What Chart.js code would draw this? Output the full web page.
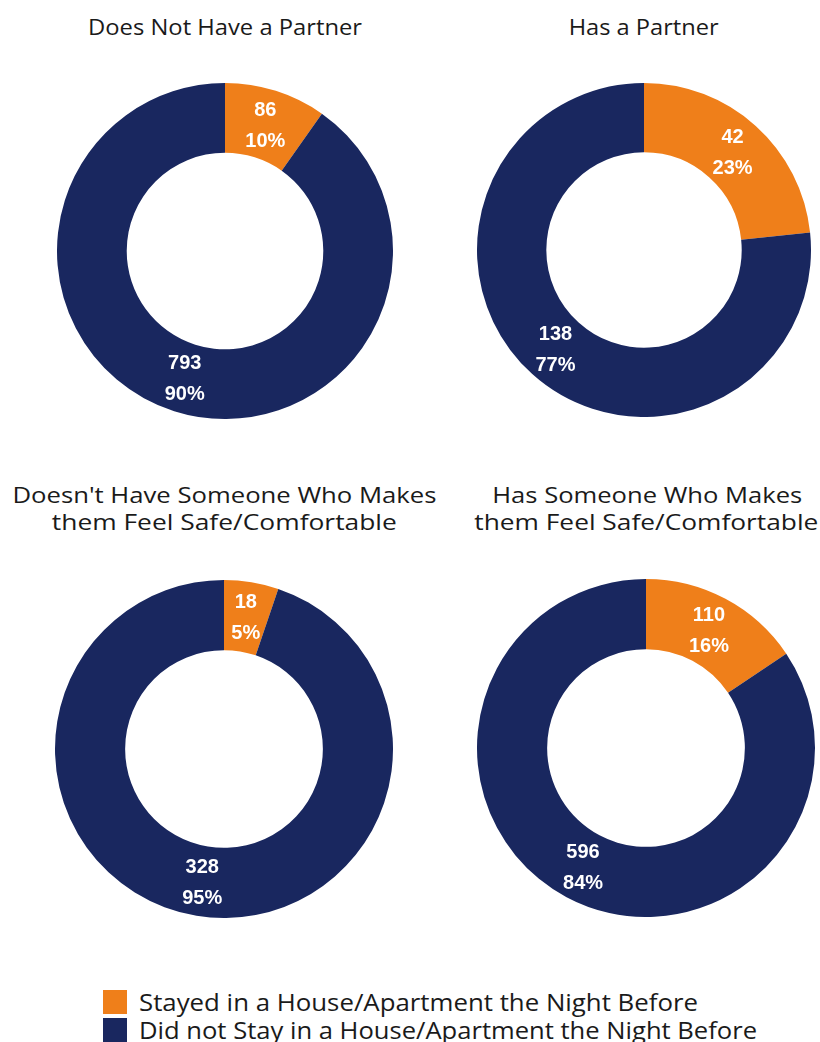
<!DOCTYPE html>
<html>
<head>
<meta charset="utf-8">
<title>Where respondents stayed the night before, by support</title>
<script src="https://cdn.jsdelivr.net/npm/chart.js@4.4.1/dist/chart.umd.min.js"></script>
<style>
  html, body { margin: 0; padding: 0; background: #ffffff; }
  body { width: 820px; height: 1042px; position: relative; overflow: hidden; font-family: "Open Sans", "Roboto", sans-serif; color: #1a1a1a; }
  .line { position: absolute; white-space: nowrap; font-size: 21px; line-height: 27px; }
  .line span { display: inline-block; }
  .ring { position: absolute; }
  .sw { position: absolute; width: 24px; height: 24px; }
  .leg { position: absolute; white-space: nowrap; font-size: 24px; line-height: 30px; transform-origin: 0 50%; }
</style>
</head>
<body>
<script>
// Group titles (one per ring, split into lines)
const groupTitles = [
  ["Does Not Have a Partner"],
  ["Has a Partner"],
  ["Doesn't Have Someone Who Makes", "them Feel Safe/Comfortable"],
  ["Has Someone Who Makes", "them Feel Safe/Comfortable"]
];

// Outcome categories shared by every ring
const outcomes = [
  "Stayed in a House/Apartment the Night Before",
  "Did not Stay in a House/Apartment the Night Before"
];

// Counts per group: [stayed, did not stay]
const noPartner = [86, 793];
const hasPartner = [42, 138];
const noSafePerson = [18, 328];
const hasSafePerson = [110, 596];

const groupValues = [noPartner, hasPartner, noSafePerson, hasSafePerson];
const outcomeColors = ["#EF7F1A", "#19275F"];

// Ring placement: centre, outer radius, title line centres and widths
const layout = [
  { cx: 225, cy: 251, r: 168, lines: [{ x: 225, y: 27, w: 274 }] },
  { cx: 644, cy: 250, r: 167, lines: [{ x: 644, y: 27, w: 150 }] },
  { cx: 224, cy: 749, r: 169, lines: [{ x: 224, y: 495, w: 424 }, { x: 224.5, y: 522, w: 345 }] },
  { cx: 646, cy: 748, r: 169, lines: [{ x: 647, y: 495, w: 310 }, { x: 646, y: 522, w: 344 }] }
];

// Legend placement
const legendLayout = [
  { x: 103, y: 990, textX: 139, textY: 1002, w: 559 },
  { x: 103, y: 1018, textX: 139, textY: 1030, w: 618 }
];

// Writes the count and percentage in white at the middle of each slice
const sliceLabels = {
  id: "sliceLabels",
  afterDatasetsDraw(chart) {
    const ctx = chart.ctx;
    const data = chart.data.datasets[0].data;
    const total = data.reduce((a, b) => a + b, 0);
    const meta = chart.getDatasetMeta(0);
    ctx.save();
    ctx.fillStyle = "#ffffff";
    ctx.font = "bold 20px 'Liberation Sans', Arial, sans-serif";
    ctx.textAlign = "center";
    ctx.textBaseline = "middle";
    meta.data.forEach((arc, i) => {
      const p = arc.tooltipPosition(true);
      const pct = Math.round(data[i] / total * 100) + "%";
      ctx.fillText(String(data[i]), p.x, p.y - 14);
      ctx.fillText(pct, p.x, p.y + 17);
    });
    ctx.restore();
  }
};

// Stretches a text element horizontally so it spans the given width
function fitWidth(el, w) {
  const actual = el.getBoundingClientRect().width;
  if (actual > 0) el.style.transform = "scaleX(" + (w / actual) + ")";
}

const titleSpans = [];

layout.forEach((L, k) => {
  groupTitles[k].forEach((text, j) => {
    const pos = L.lines[j];
    const box = document.createElement("div");
    box.className = "line";
    box.style.left = (pos.x - 300) + "px";
    box.style.width = "600px";
    box.style.textAlign = "center";
    box.style.top = (pos.y - 13.5) + "px";
    const sp = document.createElement("span");
    sp.textContent = text;
    box.appendChild(sp);
    document.body.appendChild(box);
    titleSpans.push([sp, pos.w]);
  });

  const size = L.r * 2;
  const wrap = document.createElement("div");
  wrap.className = "ring";
  wrap.style.left = (L.cx - L.r) + "px";
  wrap.style.top = (L.cy - L.r) + "px";
  wrap.style.width = size + "px";
  wrap.style.height = size + "px";
  const cv = document.createElement("canvas");
  cv.width = size;
  cv.height = size;
  wrap.appendChild(cv);
  document.body.appendChild(wrap);

  new Chart(cv, {
    type: "doughnut",
    data: {
      labels: outcomes,
      datasets: [{
        data: groupValues[k],
        backgroundColor: outcomeColors,
        borderWidth: 0,
        hoverOffset: 0
      }]
    },
    options: {
      responsive: false,
      animation: false,
      devicePixelRatio: 1,
      cutout: "58.5%",
      layout: { padding: 0 },
      plugins: { legend: { display: false }, tooltip: { enabled: false } }
    },
    plugins: [sliceLabels]
  });
});

// Shared legend
const legendSpans = [];
outcomes.forEach((name, i) => {
  const P = legendLayout[i];
  const sw = document.createElement("div");
  sw.className = "sw";
  sw.style.left = P.x + "px";
  sw.style.top = P.y + "px";
  sw.style.background = outcomeColors[i];
  document.body.appendChild(sw);
  const tx = document.createElement("div");
  tx.className = "leg";
  tx.style.left = P.textX + "px";
  tx.style.top = (P.textY - 15) + "px";
  tx.textContent = name;
  document.body.appendChild(tx);
  legendSpans.push([tx, P.w]);
});

titleSpans.forEach(([el, w]) => fitWidth(el, w));
legendSpans.forEach(([el, w]) => fitWidth(el, w));
</script>
</body>
</html>
